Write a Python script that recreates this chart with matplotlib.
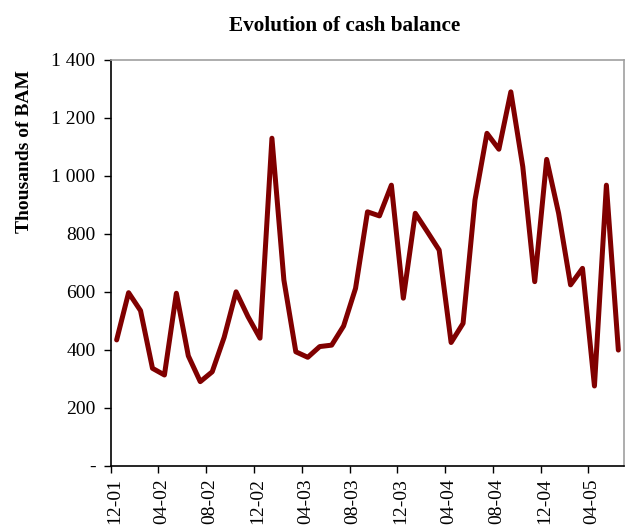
import matplotlib
matplotlib.use("Agg")
import matplotlib.pyplot as plt
import numpy as np

# Monthly cash balance (thousands of BAM), Dec 2001 .. Jun 2005
values = [434, 597, 535, 336, 313, 595, 379, 290, 324, 443,
          600, 514, 440, 1130, 641, 393, 374, 411, 416, 482,
          612, 876, 862, 968, 578, 871, 808, 744, 425, 491,
          917, 1147, 1092, 1290, 1032, 635, 1057, 871, 624, 681,
          275, 968, 399]
tick_labels = ['12-01', '04-02', '08-02', '12-02', '04-03', '08-03',
               '12-03', '04-04', '08-04', '12-04', '04-05']
y_ticks = [0, 200, 400, 600, 800, 1000, 1200, 1400]
y_tick_labels = ['-', '200', '400', '600', '800', '1 000', '1 200', '1 400']

plt.rcParams['font.family'] = ['Liberation Serif', 'DejaVu Serif']

fig = plt.figure(figsize=(6.26, 5.29), dpi=100)
ax = fig.add_axes([0.1768, 0.1197, 0.8205, 0.7669])

x = np.arange(len(values))
ax.plot(x, values, color='#800000', linewidth=3.6, solid_joinstyle='round',
        solid_capstyle='round')

ax.set_xlim(-0.5, len(values) - 0.5)
ax.set_ylim(0, 1400)

ax.set_yticks(y_ticks)
ax.set_yticklabels(y_tick_labels, fontsize=14)

step = 4
tick_pos = np.arange(len(tick_labels)) * step
ax.set_xticks(tick_pos - 0.5)
ax.set_xticklabels([])
ax.set_xticks(tick_pos - 0.2, minor=True)
ax.set_xticklabels(tick_labels, minor=True, rotation=90, fontsize=14)
ax.tick_params(axis='x', which='major', direction='out', length=5, width=1, color='black')
ax.tick_params(axis='x', which='minor', length=0, pad=9)
ax.tick_params(axis='y', direction='out', length=5, width=1, color='black', pad=6)

for s in ['top', 'right']:
    ax.spines[s].set_color('#a0a0a0')
    ax.spines[s].set_linewidth(1.2)
for s in ['left', 'bottom']:
    ax.spines[s].set_color('black')
    ax.spines[s].set_linewidth(1.2)

fig.text(0.551, 0.951, 'Evolution of cash balance', ha='center', va='center',
         fontsize=15.3, fontweight='bold')
fig.text(0.039, 0.713, 'Thousands of BAM', ha='center', va='center',
         rotation=90, fontsize=14, fontweight='bold')

fig.savefig('out.png', dpi=100)
